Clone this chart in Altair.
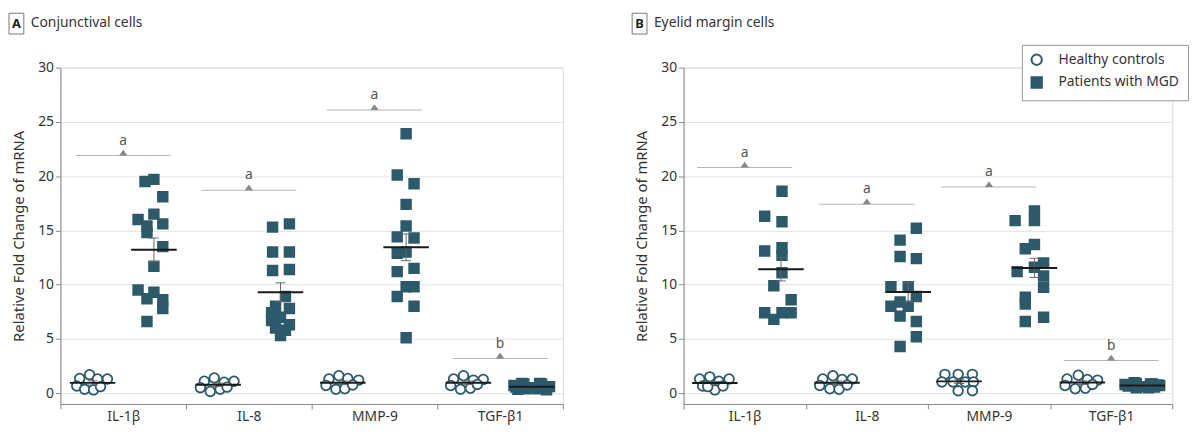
import altair as alt
import pandas as pd

cats = ["IL-1β", "IL-8", "MMP-9", "TGF-β1"]
grp_h = "Healthy controls"
grp_p = "Patients with MGD"
TEAL = "#2c5a6a"
FONT = "Noto Sans"

# ---------------- Panel A: conjunctival cells ----------------
a_h_vals = [
    [1.35, 1.7, 1.3, 1.3, 0.65, 0.35, 0.3, 0.6],
    [1.1, 1.4, 1.0, 1.1, 0.5, 0.15, 0.35, 0.55],
    [1.3, 1.6, 1.35, 1.2, 0.7, 0.35, 0.4, 0.75],
    [1.3, 1.6, 1.2, 1.25, 0.7, 0.35, 0.45, 0.8],
]
a_h_jit = [
    [-13, -3, 5, 15, -16, -8, 1, 8],
    [-14, -4, 6, 16, -18, -8, 2, 9],
    [-14, -4, 5, 16, -17, -7, 2, 10],
    [-15, -5, 5, 15, -18, -8, 2, 9],
]
a_p_vals = [
    [19.5, 19.7, 18.1, 16.0, 16.5, 15.6, 15.4, 14.8, 13.5, 11.7, 9.5, 9.3, 8.7, 8.6, 7.8, 6.6],
    [15.3, 15.6, 13.0, 13.0, 11.3, 11.4, 8.9, 8.0, 7.8, 7.4, 7.0, 6.7, 6.3, 6.0, 5.8, 5.3],
    [23.9, 20.1, 19.3, 17.4, 15.4, 14.4, 14.3, 12.9, 13.0, 11.2, 11.5, 9.8, 9.8, 8.9, 8.0, 5.1],
    [0.9, 0.85, 0.9, 0.85, 0.7, 0.65, 0.6, 0.6, 0.55, 0.5, 0.5, 0.45, 0.4, 0.4, 0.35, 0.3],
]
a_p_jit = [
    [-9, 0, 9, -16, 0, 9, -7, -7, 9, 0, -16, 0, -7, 9, 9, -7],
    [-8, 9, -8, 9, -8, 9, 5, -5, 9, -9, 0, -9, 9, -5, 5, 0],
    [0, -9, 8, 0, 0, -9, 8, -9, 0, -9, 8, 0, 8, -9, 8, 0],
    [-10, -8, 8, 10, -18, -13, 14, 18, -16, -3, 3, 12, -6, 6, -14, 15],
]
a_h_ctr = [-31, -31, -32, -32]
a_p_ctr = [31, 32, 32, 32]
a_br_y = [21.9, 18.7, 26.1, 3.2]
a_br_txt = ["a", "a", "a", "b"]

# ---------------- Panel B: eyelid margin cells ----------------
b_h_vals = [
    [1.3, 1.5, 1.1, 1.3, 0.65, 0.3, 0.65, 0.6],
    [1.3, 1.6, 1.25, 1.3, 0.7, 0.4, 0.35, 0.75],
    [1.73, 1.73, 1.73, 1.03, 1.03, 1.03, 1.03, 0.21, 0.21],
    [1.3, 1.65, 1.25, 1.2, 0.7, 0.4, 0.45, 0.8],
]
b_h_jit = [
    [-15, -5, 4, 14, -12, 0, 8, -7],
    [-14, -4, 5, 15, -17, -7, 2, 10],
    [-14, -1, 13, -17, -6, 6, 14, -1, 13],
    [-15, -4, 5, 15, -17, -7, 3, 10],
]
b_p_vals = [
    [18.6, 16.3, 15.8, 13.1, 13.4, 12.7, 11.1, 9.9, 8.6, 7.4, 7.4, 7.4, 6.8],
    [15.2, 14.1, 12.6, 12.4, 9.8, 9.8, 8.9, 8.4, 8.0, 8.0, 7.1, 6.6, 5.2, 4.3],
    [16.8, 15.9, 15.9, 13.7, 13.3, 12.0, 11.6, 11.2, 10.8, 9.75, 8.85, 8.2, 7.0, 6.6],
    [0.95, 0.9, 0.85, 0.85, 0.8, 0.75, 0.75, 0.7, 0.65, 0.6, 0.6, 0.55, 0.5, 0.5],
]
b_p_jit = [
    [1, -16, 1, -16, 1, 1, 1, -7, 10, -16, 1, 10, -7],
    [8, -8, -8, 8, -17, 0, 8, -8, -17, 0, -8, 8, 8, -8],
    [0, -19, 0, 0, -9, 9, 0, -17, 9, 9, -9, -9, 9, -9],
    [-8, -6, 8, 10, -17, -12, 15, 17, -14, -3, 3, 12, -6, 6],
]
b_h_ctr = [-31, -31, -31, -30]
b_p_ctr = [34, 39, 43, 29]
b_br_y = [20.8, 17.4, 19.0, 3.0]
b_br_txt = ["a", "a", "a", "b"]


def build_points(h_vals, h_jit, p_vals, p_jit, h_ctr, p_ctr, band):
    rows = []
    for i, c in enumerate(cats):
        for v, j in zip(h_vals[i], h_jit[i]):
            rows.append(dict(cat=c, group=grp_h, value=v, xo=(h_ctr[i] + j) / band, gc=h_ctr[i] / band))
        for v, j in zip(p_vals[i], p_jit[i]):
            rows.append(dict(cat=c, group=grp_p, value=v, xo=(p_ctr[i] + j) / band, gc=p_ctr[i] / band))
    return pd.DataFrame(rows)


def panel(df, br_y, br_txt, letter, title, width, show_legend):
    height = 340
    xscale = alt.Scale(domain=cats, paddingInner=0, paddingOuter=0)
    xaxis = alt.Axis(title=None, tickBand="extent", labelAngle=0, labelFontSize=14,
                     labelColor="#333", domainColor="#888", tickColor="#888", tickSize=5,
                     labelPadding=1, grid=False, labelFont=FONT)
    yscale = alt.Scale(domain=[-1, 30], nice=False, zero=False)
    yaxis = alt.Axis(title="Relative Fold Change of mRNA", values=[0, 5, 10, 15, 20, 25, 30],
                     grid=True, gridColor="#e2e2e2", domainColor="#888", tickColor="#888",
                     labelFontSize=14, titleFontSize=15, titleFontWeight="normal",
                     titleColor="#333", labelColor="#333", titlePadding=11,
                     labelFont=FONT, titleFont=FONT)
    xo_scale = alt.Scale(domain=[-0.5, 0.5], nice=False, zero=False)

    X = alt.X("cat:N", sort=cats, scale=xscale, axis=xaxis)

    def Y(f):
        return alt.Y(f, type="quantitative", scale=yscale, axis=yaxis)

    base = alt.Chart(df)

    if show_legend:
        leg = alt.Legend(title=None, orient="none", legendX=342, legendY=-23,
                         strokeColor="#999", fillColor="white", padding=8,
                         labelFontSize=14, labelFont=FONT, labelColor="#333",
                         symbolSize=110, symbolStrokeWidth=2,
                         rowPadding=3, labelOffset=15)
    else:
        leg = None
    shape_scale = alt.Scale(domain=[grp_h, grp_p], range=["circle", "square"])
    fill_scale = alt.Scale(domain=[grp_h, grp_p], range=["white", TEAL])
    stroke_scale = alt.Scale(domain=[grp_h, grp_p], range=[TEAL, TEAL])

    pts = base.mark_point(filled=True, strokeWidth=1.8, opacity=1, size=95).encode(
        x=X,
        xOffset=alt.XOffset("xo:Q", scale=xo_scale),
        y=Y("value"),
        shape=alt.Shape("group:N", scale=shape_scale, legend=leg),
        fill=alt.Fill("group:N", scale=fill_scale, legend=leg),
        stroke=alt.Stroke("group:N", scale=stroke_scale, legend=leg),
    )

    agg = base.transform_aggregate(
        mean="mean(value)", sem="stderr(value)", groupby=["cat", "group", "gc"]
    ).transform_calculate(lo="datum.mean - datum.sem", hi="datum.mean + datum.sem")

    mean_line = agg.mark_tick(color="#1a1a1a", thickness=2, opacity=1).encode(
        x=X, xOffset=alt.XOffset("gc:Q", scale=xo_scale), y=Y("mean"), size=alt.value(46)
    )
    err = agg.mark_rule(color="#666", strokeWidth=1).encode(
        x=X, xOffset=alt.XOffset("gc:Q", scale=xo_scale), y=Y("lo"), y2="hi:Q"
    )
    cap_lo = agg.mark_tick(color="#666", thickness=1, opacity=1).encode(
        x=X, xOffset=alt.XOffset("gc:Q", scale=xo_scale), y=Y("lo"), size=alt.value(10)
    )
    cap_hi = agg.mark_tick(color="#666", thickness=1, opacity=1).encode(
        x=X, xOffset=alt.XOffset("gc:Q", scale=xo_scale), y=Y("hi"), size=alt.value(10)
    )

    br = pd.DataFrame({"cat": cats, "by": br_y, "txt": br_txt})
    bbase = alt.Chart(br)
    br_line = bbase.mark_tick(color="#b5b5b5", thickness=1, opacity=1).encode(
        x=X, y=Y("by"), size=alt.value(96)
    )
    br_tri = bbase.mark_point(shape="M-1,0L0,-1.4L1,0Z", filled=True, color="#888",
                              opacity=1, size=70).encode(x=X, y=Y("by"))
    br_txt_m = bbase.mark_text(dy=-8, baseline="bottom", fontSize=14, color="#555",
                               font=FONT).encode(x=X, y=Y("by"), text="txt:N")

    tdf = pd.DataFrame({"letter": [letter], "title": [title]})
    tbase = alt.Chart(tdf)
    box = tbase.mark_rect(fill="white", stroke="#777", strokeWidth=1).encode(
        x=alt.value(-52), x2=alt.value(-37), y=alt.value(-55), y2=alt.value(-34)
    )
    box_txt = tbase.mark_text(fontWeight="bold", fontSize=13, align="center",
                              baseline="middle", color="#222", font=FONT).encode(
        x=alt.value(-44.5), y=alt.value(-44.5), text="letter:N"
    )
    ttl = tbase.mark_text(fontSize=14, align="left", baseline="middle", color="#333",
                          font=FONT).encode(x=alt.value(-30), y=alt.value(-45), text="title:N")

    return alt.layer(br_line, br_tri, br_txt_m, pts, err, cap_lo, cap_hi, mean_line,
                     box, box_txt, ttl).properties(width=width, height=height)


df_a = build_points(a_h_vals, a_h_jit, a_p_vals, a_p_jit, a_h_ctr, a_p_ctr, 127.0)
df_b = build_points(b_h_vals, b_h_jit, b_p_vals, b_p_jit, b_h_ctr, b_p_ctr, 123.5)

pa = panel(df_a, a_br_y, a_br_txt, "A", "Conjunctival cells", 508, False)
pb = panel(df_b, b_br_y, b_br_txt, "B", "Eyelid margin cells", 494, True)

chart = alt.hconcat(pa, pb, spacing=68).resolve_scale(
    shape="independent", fill="independent", stroke="independent"
).properties(
    padding={"left": 0, "top": 2, "right": 2, "bottom": 2}
).configure_view(stroke=None).configure(font=FONT)

chart.save("out.html", embed_options={"renderer": "svg", "actions": False})
